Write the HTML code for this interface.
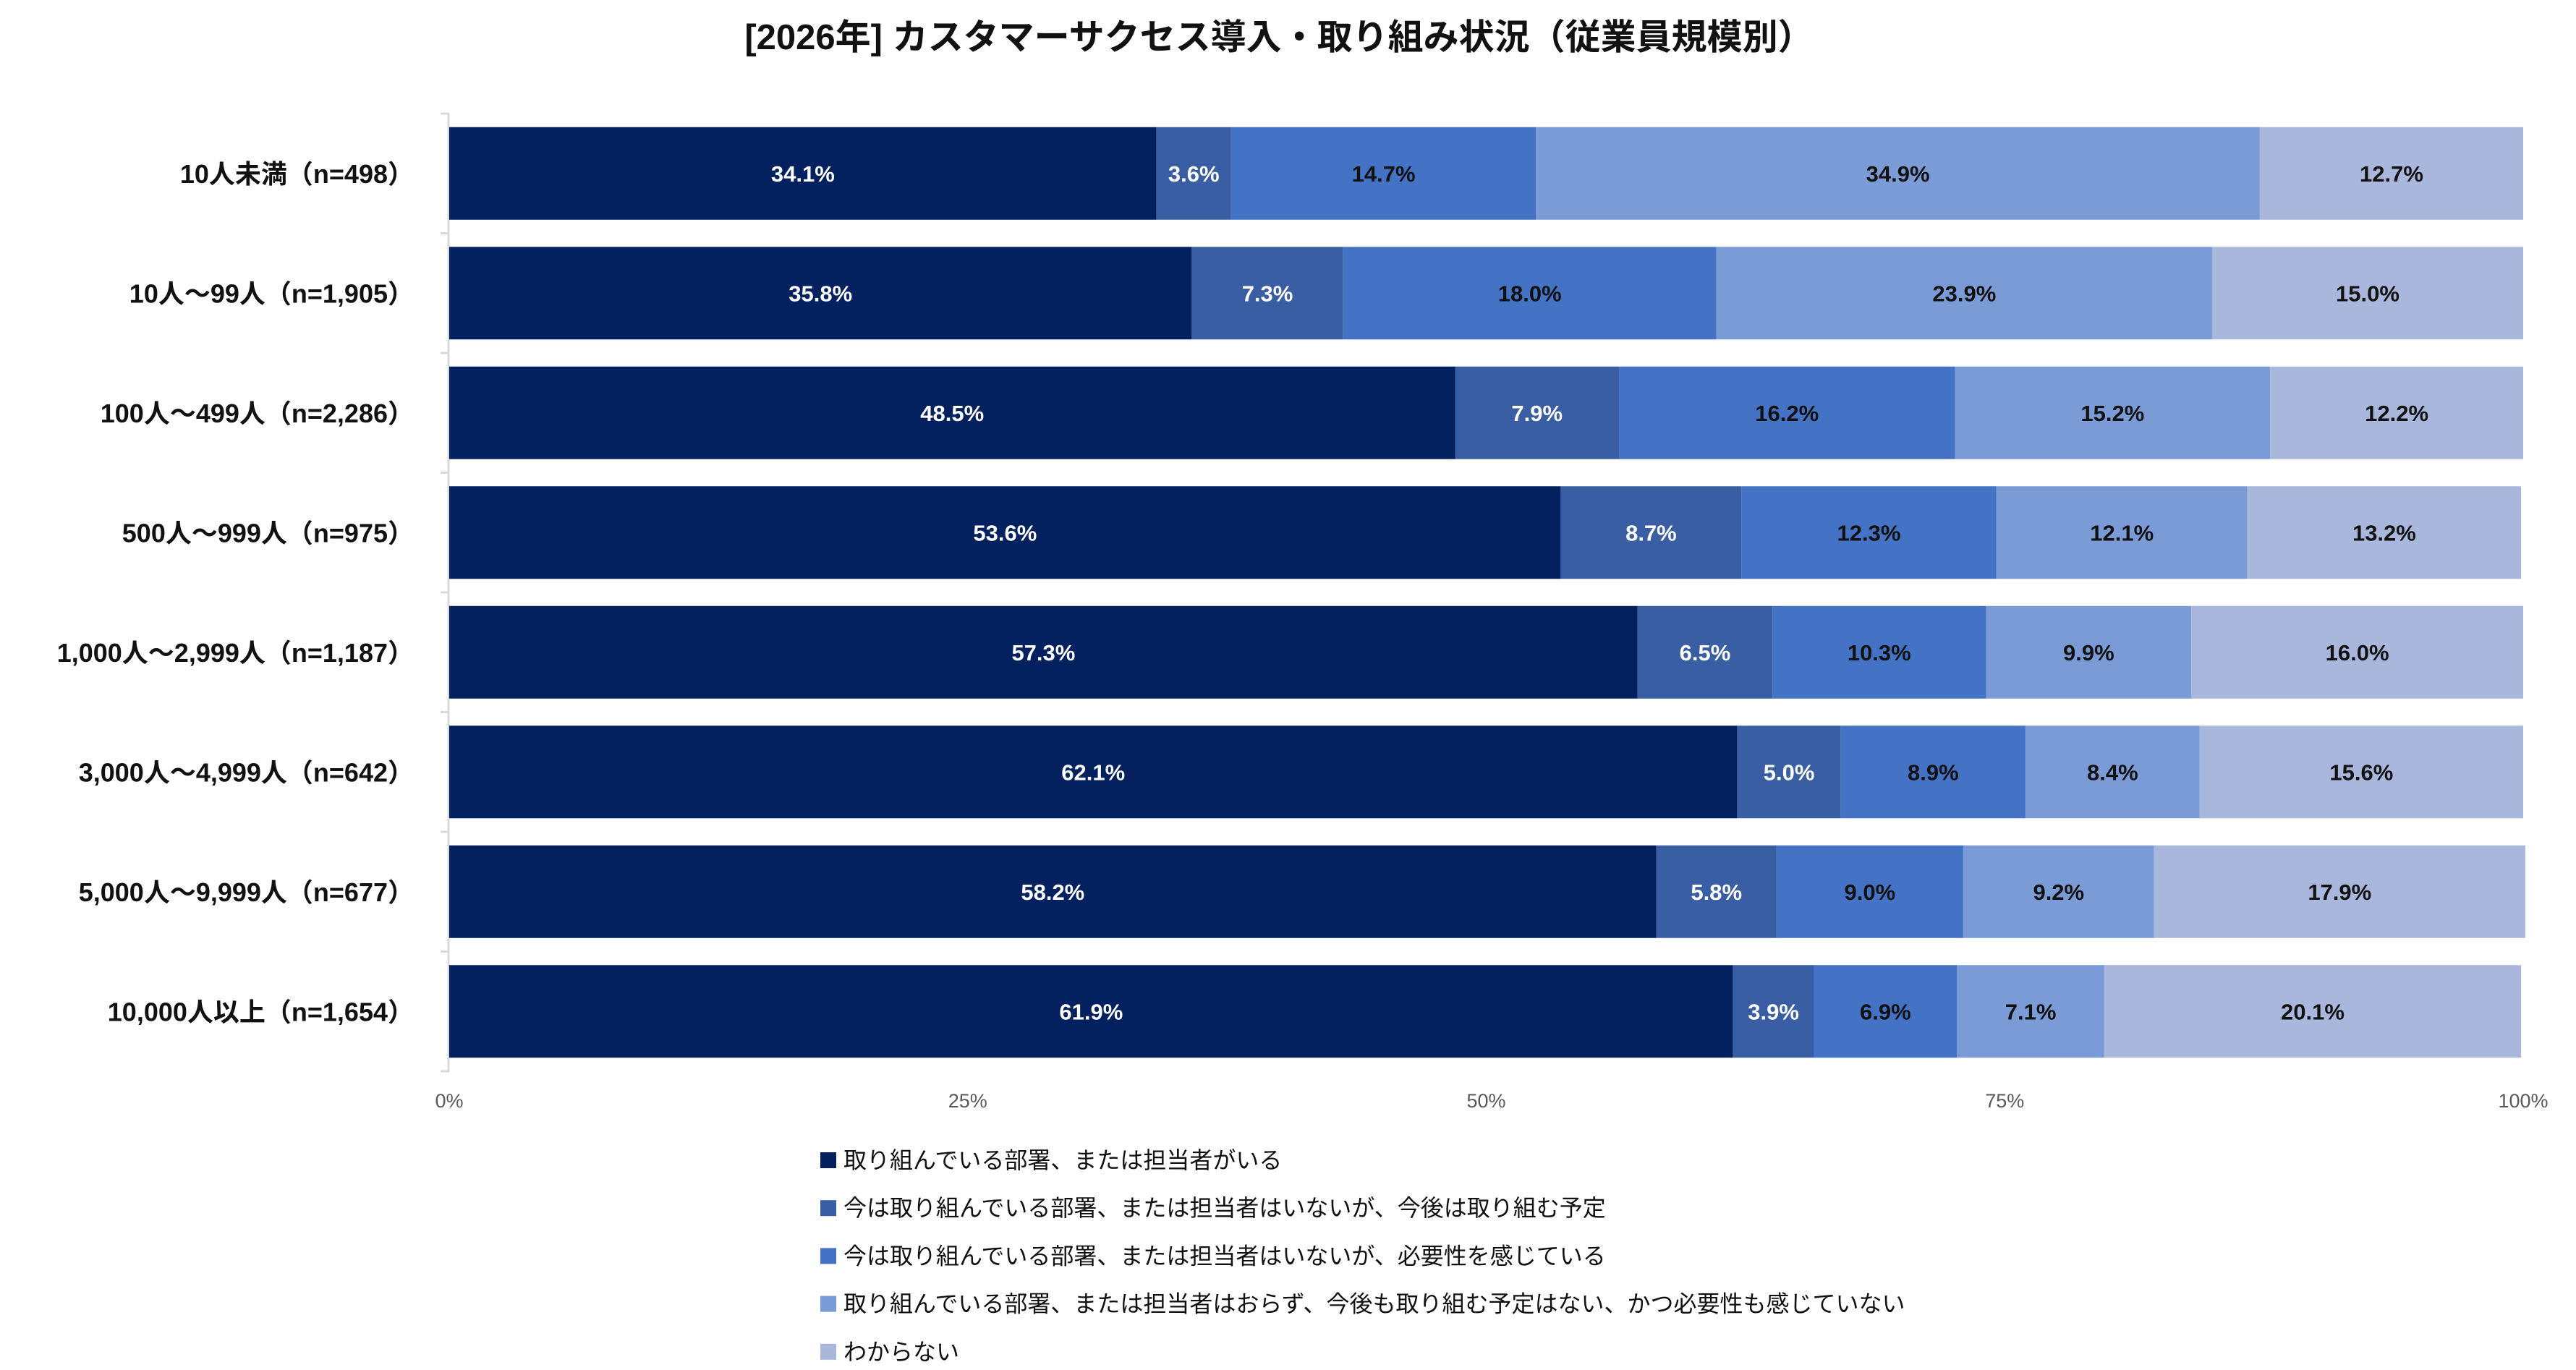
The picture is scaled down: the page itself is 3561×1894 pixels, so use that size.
<!DOCTYPE html>
<html><head><meta charset="utf-8"><style>
html,body{margin:0;padding:0;background:#fff;}
svg{display:block;font-family:"Liberation Sans","Noto Sans CJK JP",sans-serif;}
</style></head><body>
<svg id="chart" width="3561" height="1894" viewBox="0 0 3561 1894" xmlns="http://www.w3.org/2000/svg">
<text x="1768" y="68" text-anchor="middle" font-size="49" font-weight="bold" fill="#111">[2026年] カスタマーサクセス導入・取り組み状況（従業員規模別）</text>
<g id="plot"></g>
<g id="legend"></g>
</svg>
<script>
const categories = ["10人未満（n=498）","10人～99人（n=1,905）","100人～499人（n=2,286）","500人～999人（n=975）","1,000人～2,999人（n=1,187）","3,000人～4,999人（n=642）","5,000人～9,999人（n=677）","10,000人以上（n=1,654）"];
const s1 = [34.1,35.8,48.5,53.6,57.3,62.1,58.2,61.9];
const s2 = [3.6,7.3,7.9,8.7,6.5,5.0,5.8,3.9];
const s3 = [14.7,18.0,16.2,12.3,10.3,8.9,9.0,6.9];
const s4 = [34.9,23.9,15.2,12.1,9.9,8.4,9.2,7.1];
const s5 = [12.7,15.0,12.2,13.2,16.0,15.6,17.9,20.1];
const seriesNames = ["取り組んでいる部署、または担当者がいる","今は取り組んでいる部署、または担当者はいないが、今後は取り組む予定","今は取り組んでいる部署、または担当者はいないが、必要性を感じている","取り組んでいる部署、または担当者はおらず、今後も取り組む予定はない、かつ必要性も感じていない","わからない"];
const xTicks = [0,25,50,75,100];
const xTickLabels = ["0%","25%","50%","75%","100%"];

const NS="http://www.w3.org/2000/svg";
const colors=["#03215f","#3a5ea3","#4472c4","#7a9bd6","#a8b7db"];
const labelColors=["#fff","#fff","#111","#111","#111"];
const X0=621,X1=3488,Y0=157,STEP=165.5,BH=128;
const xs=v=>X0+(X1-X0)*v/100;
const yc=i=>Y0+STEP*i+STEP/2;
const plot=document.getElementById('plot');
const legend=document.getElementById('legend');
function mk(tag,attrs,parent){const e=document.createElementNS(NS,tag);for(const k in attrs)e.setAttribute(k,attrs[k]);parent.appendChild(e);return e;}
const series=[s1,s2,s3,s4,s5];
let ax=mk('line',{x1:X0-1,x2:X0-1,y1:Y0,y2:Y0+STEP*categories.length,stroke:'#d9d9d9','stroke-width':3},plot);


for(let i=0;i<=categories.length;i++){
  const t=mk('line',{x1:X0-12,x2:X0,y1:Y0+STEP*i,y2:Y0+STEP*i,stroke:'#d9d9d9','stroke-width':3},plot);
  
  
}
categories.forEach((c,i)=>{
  const t=mk('text',{x:572,y:yc(i)+13,'text-anchor':'end','font-size':36,'font-weight':'bold',fill:'#111'},plot);
  t.textContent=c;
  
  
  let acc=0;
  series.forEach((s,k)=>{
    const v=s[i];
    const r=mk('rect',{x:xs(acc),y:yc(i)-BH/2,width:xs(acc+v)-xs(acc),height:BH,fill:colors[k]},plot);
    
    
    const l=mk('text',{x:(xs(acc)+xs(acc+v))/2,y:yc(i)+11,'text-anchor':'middle','font-size':31,'font-weight':'bold',fill:labelColors[k]},plot);
    l.textContent=v.toFixed(1)+'%';
    
    
    acc+=v;
  });
});
xTicks.forEach((v,i)=>{
  const t=mk('text',{x:xs(v),y:1531,'text-anchor':'middle','font-size':27,fill:'#595959'},plot);
  t.textContent=xTickLabels[i];
  
  
});
seriesNames.forEach((n,k)=>{
  const y=1604+66.2*k;
  const sq=mk('rect',{x:1134,y:y-11,width:22,height:22,fill:colors[k]},legend);
  
  
  const t=mk('text',{x:1166,y:y+11,'font-size':32,fill:'#111'},legend);
  t.textContent=n;
  
  
});
</script>
</body></html>
